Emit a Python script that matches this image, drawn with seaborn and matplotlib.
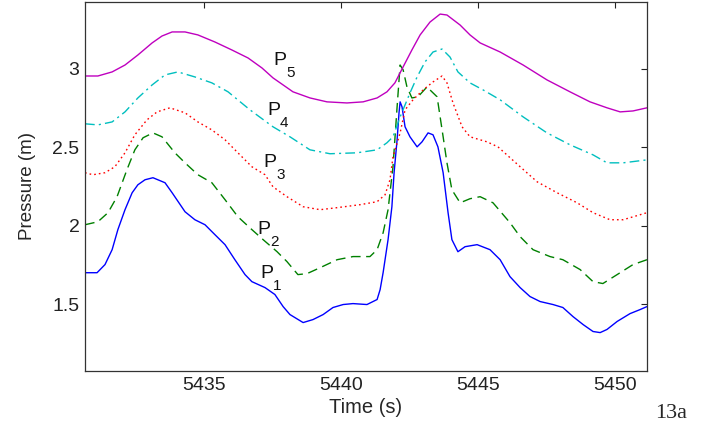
import seaborn as sns
import pandas as pd
import matplotlib.pyplot as plt

# pressure traces (time in s, pressure in m)
t1 = [5430.66, 5431.10, 5431.39, 5431.65, 5431.86, 5432.12, 5432.38, 5432.59, 5432.85, 5433.14,
      5433.58, 5433.84, 5434.31, 5434.67, 5435.04, 5435.40, 5435.77, 5436.13, 5436.50, 5436.75,
      5437.23, 5437.59, 5437.89, 5438.14, 5438.62, 5438.98, 5439.35, 5439.71, 5440.08, 5440.44,
      5440.95, 5441.32, 5441.43, 5441.54, 5441.72, 5441.86, 5441.94, 5442.05, 5442.12, 5442.16,
      5442.23, 5442.34, 5442.52, 5442.78, 5442.96, 5443.18, 5443.36, 5443.54, 5443.73, 5443.91,
      5444.05, 5444.27, 5444.53, 5444.97, 5445.44, 5445.81, 5446.17, 5446.54, 5446.90, 5447.27,
      5447.74, 5448.10, 5448.47, 5448.84, 5449.20, 5449.46, 5449.71, 5450.08, 5450.55, 5450.92,
      5451.17]
p1 = [1.700, 1.700, 1.752, 1.847, 1.975, 2.102, 2.210, 2.261, 2.293, 2.306,
      2.274, 2.210, 2.089, 2.038, 2.006, 1.943, 1.879, 1.783, 1.688, 1.643,
      1.605, 1.561, 1.484, 1.433, 1.382, 1.401, 1.433, 1.478, 1.497, 1.503,
      1.497, 1.529, 1.592, 1.701, 1.911, 2.121, 2.338, 2.548, 2.720, 2.790,
      2.758, 2.631, 2.567, 2.503, 2.535, 2.592, 2.580, 2.503, 2.338, 2.083,
      1.911, 1.834, 1.866, 1.879, 1.847, 1.783, 1.675, 1.605, 1.548, 1.516,
      1.497, 1.478, 1.420, 1.369, 1.325, 1.318, 1.338, 1.389, 1.439, 1.465,
      1.484]

t2 = [5430.66, 5431.13, 5431.50, 5431.83, 5432.19, 5432.48, 5432.78, 5433.14, 5433.47, 5433.94,
      5434.31, 5434.78, 5435.29, 5435.77, 5436.24, 5436.75, 5437.16, 5437.67, 5438.03, 5438.43,
      5438.76, 5439.24, 5439.86, 5440.44, 5441.06, 5441.32, 5441.54, 5441.72, 5441.90, 5442.05,
      5442.16, 5442.27, 5442.41, 5442.59, 5442.81, 5443.14, 5443.51, 5443.73, 5443.87, 5444.05,
      5444.35, 5444.71, 5445.08, 5445.55, 5446.17, 5446.54, 5447.01, 5447.63, 5448.10, 5448.73,
      5449.20, 5449.56, 5450.08, 5450.66, 5451.17]
p2 = [2.006, 2.025, 2.083, 2.185, 2.357, 2.484, 2.561, 2.592, 2.567, 2.465,
      2.401, 2.325, 2.274, 2.166, 2.057, 1.975, 1.911, 1.834, 1.771, 1.688,
      1.694, 1.732, 1.783, 1.803, 1.803, 1.847, 1.955, 2.102, 2.376, 2.758,
      3.025, 2.994, 2.885, 2.815, 2.822, 2.885, 2.822, 2.567, 2.401, 2.229,
      2.146, 2.172, 2.185, 2.146, 2.019, 1.930, 1.847, 1.803, 1.783, 1.720,
      1.643, 1.631, 1.688, 1.752, 1.783]

t3 = [5430.66, 5430.95, 5431.39, 5431.75, 5432.12, 5432.48, 5432.92, 5433.29, 5433.76, 5434.31,
      5434.78, 5435.29, 5435.77, 5436.24, 5436.75, 5437.23, 5437.52, 5438.03, 5438.62, 5439.24,
      5439.86, 5440.70, 5441.32, 5441.61, 5441.79, 5441.90, 5442.16, 5442.34, 5442.63, 5443.00,
      5443.36, 5443.69, 5443.87, 5444.09, 5444.42, 5444.71, 5445.33, 5445.73, 5446.54, 5447.16,
      5447.89, 5448.62, 5449.20, 5449.82, 5450.30, 5451.17]
p3 = [2.338, 2.325, 2.338, 2.376, 2.465, 2.580, 2.675, 2.726, 2.752, 2.720,
      2.662, 2.611, 2.548, 2.465, 2.376, 2.325, 2.248, 2.185, 2.121, 2.102,
      2.115, 2.134, 2.153, 2.197, 2.293, 2.439, 2.592, 2.739, 2.803, 2.866,
      2.917, 2.955, 2.911, 2.783, 2.631, 2.567, 2.535, 2.503, 2.376, 2.280,
      2.210, 2.146, 2.083, 2.038, 2.038, 2.083]

t4 = [5430.66, 5431.13, 5431.65, 5432.12, 5432.59, 5433.11, 5433.58, 5434.05, 5434.67, 5435.29,
      5435.88, 5436.68, 5437.52, 5438.14, 5438.87, 5439.60, 5440.59, 5441.32, 5441.68, 5441.90,
      5442.16, 5442.52, 5442.78, 5443.07, 5443.36, 5443.69, 5443.98, 5444.27, 5444.71, 5445.19,
      5445.81, 5446.65, 5447.52, 5448.36, 5449.20, 5449.71, 5450.30, 5451.17]
p4 = [2.650, 2.643, 2.662, 2.726, 2.815, 2.898, 2.962, 2.981, 2.949, 2.911,
      2.854, 2.739, 2.631, 2.567, 2.484, 2.459, 2.465, 2.484, 2.529, 2.567,
      2.694, 2.847, 2.949, 3.045, 3.108, 3.127, 3.076, 2.981, 2.911, 2.866,
      2.803, 2.694, 2.592, 2.516, 2.452, 2.401, 2.401, 2.420]

t5 = [5430.66, 5431.13, 5431.65, 5432.12, 5432.59, 5433.11, 5433.47, 5433.84, 5434.31, 5434.78,
      5435.40, 5436.02, 5436.61, 5437.12, 5437.52, 5438.25, 5438.87, 5439.49, 5440.22, 5440.81,
      5441.32, 5441.68, 5441.97, 5442.27, 5442.59, 5442.89, 5443.25, 5443.62, 5443.87, 5444.35,
      5444.71, 5445.08, 5445.81, 5446.65, 5447.52, 5448.36, 5449.09, 5449.71, 5450.19, 5450.66,
      5451.17]
p5 = [2.955, 2.955, 2.981, 3.025, 3.089, 3.166, 3.210, 3.236, 3.236, 3.217,
      3.172, 3.121, 3.070, 3.006, 2.943, 2.854, 2.815, 2.790, 2.783, 2.790,
      2.815, 2.854, 2.911, 3.013, 3.121, 3.217, 3.299, 3.350, 3.344, 3.280,
      3.217, 3.166, 3.108, 3.025, 2.930, 2.854, 2.790, 2.752, 2.726, 2.732,
      2.752]

series_names = ['1', '2', '3', '4', '5']
x_ticks = [5435, 5440, 5445, 5450]
y_ticks = [1.5, 2, 2.5, 3]

sns.set_style('white')
plt.rcParams['font.family'] = ['Liberation Sans', 'DejaVu Sans']

fig = plt.figure(figsize=(7.07, 4.25), dpi=100)
ax = fig.add_axes([85 / 707, 54 / 425, 562 / 707, 369 / 425])

styles = [
    ('#0000ff', '-', None),
    ('#008000', '--', (7, 4)),
    ('#ff0000', ':', (1.2, 2.2)),
    ('#00bfbf', '-.', (7, 3, 1.5, 3)),
    ('#bf00bf', '-', None),
]
all_t = [t1, t2, t3, t4, t5]
all_p = [p1, p2, p3, p4, p5]

for name, t, p, (col, ls, dash) in zip(series_names, all_t, all_p, styles):
    df = pd.DataFrame({'Time': t, 'Pressure': p})
    sns.lineplot(data=df, x='Time', y='Pressure', sort=False, estimator=None,
                 color=col, linewidth=1.0, ax=ax)
    line = ax.lines[-1]
    if dash is not None:
        line.set_dashes(dash)

ax.set_xlim(5430.66, 5451.17)
ax.set_ylim(1.073, 3.427)
ax.set_xticks(x_ticks)
ax.set_xticklabels([str(v) for v in x_ticks])
ax.set_yticks(y_ticks)
ax.set_yticklabels(['1.5', '2', '2.5', '3'])
ax.tick_params(direction='in', length=4.5, width=0.8, top=True, right=True,
               labelsize=14, colors='#222222', pad=4)
for s in ax.spines.values():
    s.set_visible(True)
    s.set_color('#333333')
    s.set_linewidth(0.9)

ax.set_xlabel('Time (s)', fontsize=14.5, labelpad=3)
ax.set_ylabel('Pressure (m)', fontsize=13.5, labelpad=12)

# curve labels P with subscript
label_pos = [(5437.05, 1.669), (5436.94, 1.949), (5437.16, 2.376), (5437.30, 2.707), (5437.52, 3.025)]
for name, (lx, ly) in zip(series_names, label_pos):
    ax.text(lx, ly, 'P', fontsize=14, ha='left', va='baseline', color='#111111')
    ax.annotate(name, xy=(lx, ly), xytext=(9.4, -8.6), textcoords='offset points',
                fontsize=11, ha='left', va='baseline', color='#111111')

fig.text(655 / 707, 7 / 425, '13a', fontsize=16, family='Liberation Serif',
         ha='left', va='baseline')

fig.savefig('out.png', dpi=100)
